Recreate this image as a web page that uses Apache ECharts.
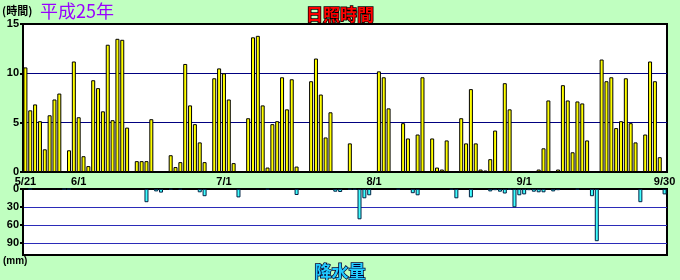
<!DOCTYPE html>
<html><head><meta charset="utf-8">
<script src="https://cdn.jsdelivr.net/npm/echarts@6/dist/echarts.min.js"></script>
<style>html,body{margin:0;padding:0;background:#c0ffc0;}#c{width:680px;height:280px;}</style>
</head><body><div id="c"></div>
<script>
// Sunshine hours per day, 5/21 .. 9/30 (133 days)
var sunshine = [
 10.6,6.25,6.85,5.15,2.3,5.75,7.35,7.95,0,2.2,
 11.2,5.55,1.6,0.6,9.3,8.5,6.15,12.9,5.25,13.5,
 13.4,4.5,0,1.1,1.1,1.1,5.35,0,0,0,
 1.7,0.5,1.0,10.95,6.75,4.85,3.0,1.0,0.1,9.5,
 10.5,10.0,7.35,0.9,0,0,5.45,13.65,13.8,6.75,
 0.45,4.85,5.15,9.6,6.35,9.4,0.55,0,0,9.2,
 11.5,7.85,3.5,6.05,0,0,0,2.9,0,0,
 0,0,0,10.2,9.6,6.45,0,0.1,4.95,3.4,
 0,3.8,9.6,0,3.4,0.45,0.25,3.2,0,0,
 5.45,2.9,8.4,2.9,0.25,0.15,1.3,4.2,0,9.0,
 6.35,0,0,0,0,0,0.25,2.4,7.25,0,
 0.25,8.8,7.25,2.0,7.15,6.95,3.2,0,0,11.4,
 9.2,9.6,4.45,5.15,9.5,4.95,3.0,0,3.8,11.2,
 9.2,1.5,0
];
// Precipitation (mm) per day
var precipitation = [
 0,0.5,0,0,0,0,0,0,0.5,0.5,
 0,0,0,0,0,0,0,0,0,0,
 0,0,0,0,0,22,0,4,6,0,
 1,0,1,0,0,0,5.5,12,0,0,
 0,0,0,0,14,0,0,0,0,0,
 1,0,0,0,0,0,10,0,0,0,
 0,0,0,0,4.5,5,0,1,1,50.5,
 15.5,10.5,0,0,0,0,0,1,0,0,
 7,10.5,0,0,0,0,0,0,1,15.5,
 0,0,14,0,0,0,4,2,4.5,7.5,
 1,30.5,10.5,9,2,4.5,5.5,5.5,0,4,
 2,0,0,0,1,0,0,12,87,0,
 0,0,0,0,0,0,0,22,0,0,
 0,0,9
];
var tickLabels = ['5/21','6/1','7/1','8/1','9/1','9/30'];
var sunTicks = [0,5,10,15];
var rainTicks = [0,30,60,90];

// build calendar categories 5/21 .. 9/30
var categories = [];
(function(){
  var monthDays = {5:31,6:30,7:31,8:31,9:30};
  var m = 5, d = 21;
  while (m !== 10) {
    categories.push(m + '/' + d);
    d++;
    if (d > monthDays[m]) { m++; d = 1; }
  }
})();

var chart = echarts.init(document.getElementById('c'), null, {renderer:'canvas'});
var numFont = 'Liberation Sans, Arial, sans-serif';
var cjkFont = 'Noto Sans CJK JP, sans-serif';
var opt = {
  backgroundColor: '#c0ffc0',
  animation: false,
  graphic: [
    {type:'text', left: 2, top: 5, style:{text:'(時間)', font:'bold 11px ' + cjkFont, fill:'#000'}},
    {type:'text', left: 40, top: 2, style:{text:'平成25年', font:'18px ' + cjkFont, fill:'#9900ff'}},
    {type:'text', left: 3, top: 256, style:{text:'(mm)', font:'bold 10px ' + numFont, fill:'#000'}}
  ],
  title: [
    {text:'日照時間', left: 'center', top: 1, textStyle:{fontFamily:cjkFont, fontSize:17, fontWeight:'bold', color:'#ff0000', textBorderColor:'#000', textBorderWidth:1.5}},
    {text:'降水量', left: 'center', top: 258, textStyle:{fontFamily:cjkFont, fontSize:17, fontWeight:'bold', color:'#22ccff', textBorderColor:'#000033', textBorderWidth:1.5}}
  ],
  grid: [
    {left: 23, top: 24, width: 644, height: 148, show:true, backgroundColor:'#fff', borderColor:'#000', borderWidth:2},
    {left: 23, top: 189, width: 644, height: 66, show:true, backgroundColor:'#fff', borderColor:'#000', borderWidth:2}
  ],
  xAxis: [
    {type:'category', gridIndex:0, data: categories, boundaryGap:true,
     axisLine:{lineStyle:{color:'#000', width:2}}, axisTick:{show:false},
     axisLabel:{interval: function(i, v){ return tickLabels.indexOf(v) >= 0; }, color:'#000', fontFamily:numFont, fontWeight:'bold', fontSize:11, margin:4, hideOverlap:false}},
    {type:'category', gridIndex:1, data: categories, boundaryGap:true, position:'top',
     axisLine:{lineStyle:{color:'#000', width:2}}, axisTick:{show:false}, axisLabel:{show:false}}
  ],
  yAxis: [
    {type:'value', gridIndex:0, min:0, max:15, interval:5,
     axisLine:{show:true, lineStyle:{color:'#000', width:2}}, axisTick:{show:true, length:3, lineStyle:{color:'#000', width:2}},
     splitLine:{show:true, lineStyle:{color:['#000','#000080','#000080','#000'], width:1}},
     axisLabel:{color:'#000', fontFamily:numFont, fontWeight:'bold', fontSize:11, margin:4,
       formatter: function(v){ return sunTicks.indexOf(v) >= 0 ? String(v) : ''; }}},
    {type:'value', gridIndex:1, min:0, max:110, interval:30, inverse:true,
     axisLine:{show:true, lineStyle:{color:'#000', width:2}}, axisTick:{show:true, length:3, lineStyle:{color:'#000', width:2}},
     splitLine:{show:true, lineStyle:{color:['#000','#2b2bb8','#2b2bb8','#2b2bb8','#000'], width:1}},
     axisLabel:{color:'#000', fontFamily:numFont, fontWeight:'bold', fontSize:11, margin:4, showMaxLabel:false,
       formatter: function(v){ return rainTicks.indexOf(v) >= 0 ? String(v) : ''; }}}
  ],
  series: [
    {type:'bar', xAxisIndex:0, yAxisIndex:0, barWidth:4,
     data: sunshine.map(function(v){ return v > 0 ? v : null; }),
     itemStyle:{color:'#ffff00', borderColor:'#000', borderWidth:1}},
    {type:'bar', xAxisIndex:1, yAxisIndex:1, barWidth:4,
     data: precipitation.map(function(v){ return v > 0 ? v : null; }),
     itemStyle:{color:'#40ffff', borderColor:'#002244', borderWidth:1}}
  ]
};
chart.setOption(opt);
</script></body></html>
